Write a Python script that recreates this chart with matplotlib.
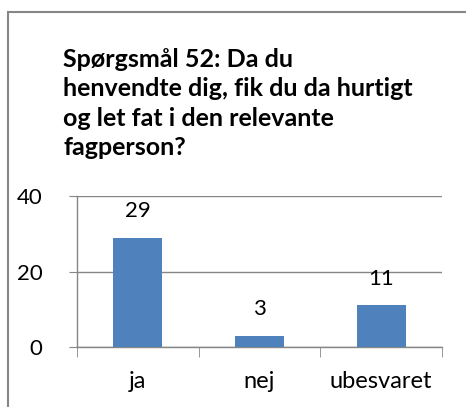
import matplotlib
matplotlib.use("Agg")
import matplotlib.pyplot as plt
from matplotlib.patches import Rectangle

categories = ["ja", "nej", "ubesvaret"]
counts = [29, 3, 11]
yticks = [0, 20, 40]
title = "Spørgsmål 52: Da du\nhenvendte dig, fik du da hurtigt\nog let fat i den relevante\nfagperson?"

plt.rcParams["font.family"] = ["Lato", "DejaVu Sans"]

W, H = 466, 407
fig = plt.figure(figsize=(W / 100, H / 100), dpi=100)

# outer chart frame (only left and top edges fall inside the canvas)
fig.patches.append(Rectangle((8 / W, -0.1), 1.2, 1 - 12 / H + 0.1,
                             transform=fig.transFigure, fill=False,
                             edgecolor="#868686", linewidth=1.5))

fig.text(63 / W, 1 - 48 / H, title, ha="left", va="top", fontsize=18,
         fontweight="bold", color="#000000", linespacing=1.34)

ax = fig.add_axes([77 / W, 1 - 347 / H, (442 - 77) / W, (347 - 196) / H])
x = list(range(len(categories)))
bars = ax.bar(x, counts, width=0.4, color="#4F81BD", zorder=3)
for xi, v in zip(x, counts):
    ax.annotate(str(v), (xi, v), xytext=(0, 12), textcoords="offset points",
                ha="center", va="bottom", fontsize=16, color="#000000")

ax.set_xlim(-0.5, len(categories) - 0.5)
ax.set_ylim(0, 40)
ax.set_yticks(yticks)
ax.set_yticklabels([str(t) for t in yticks], fontsize=16)
ax.yaxis.grid(True, color="#868686", linewidth=1, zorder=0)
ax.tick_params(axis="y", length=6, color="#868686", pad=19, direction="out")

ax.set_xticks(x)
ax.set_xticklabels(categories, fontsize=17)
ax.tick_params(axis="x", length=0, pad=17)
ax.set_xticks([i - 0.5 for i in range(len(categories) + 1)], minor=True)
ax.tick_params(axis="x", which="minor", length=7, color="#868686", direction="out")

for s in ["top", "right"]:
    ax.spines[s].set_visible(False)
for s in ["left", "bottom"]:
    ax.spines[s].set_color("#868686")
    ax.spines[s].set_linewidth(1)
ax.set_facecolor("none")

fig.savefig("out.png", dpi=100)
